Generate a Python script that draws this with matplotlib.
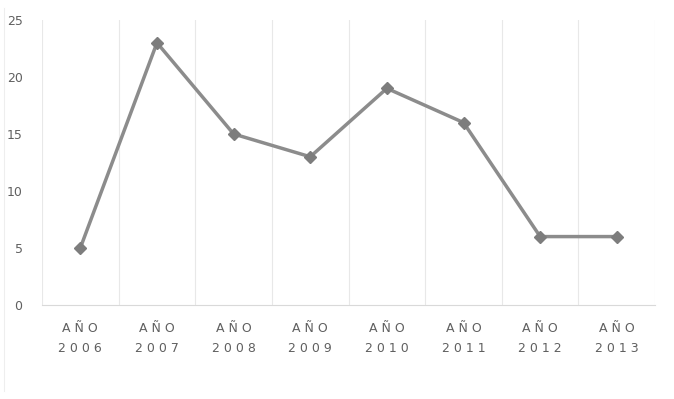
import matplotlib.pyplot as plt
import numpy as np

years = ['2006', '2007', '2008', '2009', '2010', '2011', '2012', '2013']
values = [5, 23, 15, 13, 19, 16, 6, 6]
yticks = [0, 5, 10, 15, 20, 25]

labels = ['A Ñ O\n' + ' '.join(y) for y in years]

fig = plt.figure(figsize=(6.74, 3.99), dpi=100)
ax = fig.add_axes([0.0623, 0.2356, 0.9097, 0.7144])

x = np.arange(len(years))
ax.plot(x, values, color='#8c8c8c', lw=2.5, marker='D', ms=6,
        markerfacecolor='#7d7d7d', markeredgecolor='#7d7d7d')

ax.set_xlim(-0.5, len(years) - 0.5)
ax.set_ylim(0, 25)
ax.set_yticks(yticks)
ax.set_xticks(x)
ax.set_xticklabels(labels, fontsize=9, color='#505050', linespacing=1.7)

# vertical gridlines at category boundaries
for b in np.arange(-0.5, len(years), 1.0):
    ax.axvline(b, color='#e8e8e8', lw=0.8, zorder=0)

for s in ['top', 'right', 'left']:
    ax.spines[s].set_visible(False)
ax.spines['bottom'].set_color('#d9d9d9')
ax.tick_params(axis='both', length=0, colors='#606060')
ax.tick_params(axis='y', labelsize=9, pad=14)
ax.tick_params(axis='x', pad=12)

fig.add_artist(plt.Line2D([0.006, 0.006], [0.02, 0.98], color='#eeeeee', lw=0.8))

fig.savefig('out.png', dpi=100)
